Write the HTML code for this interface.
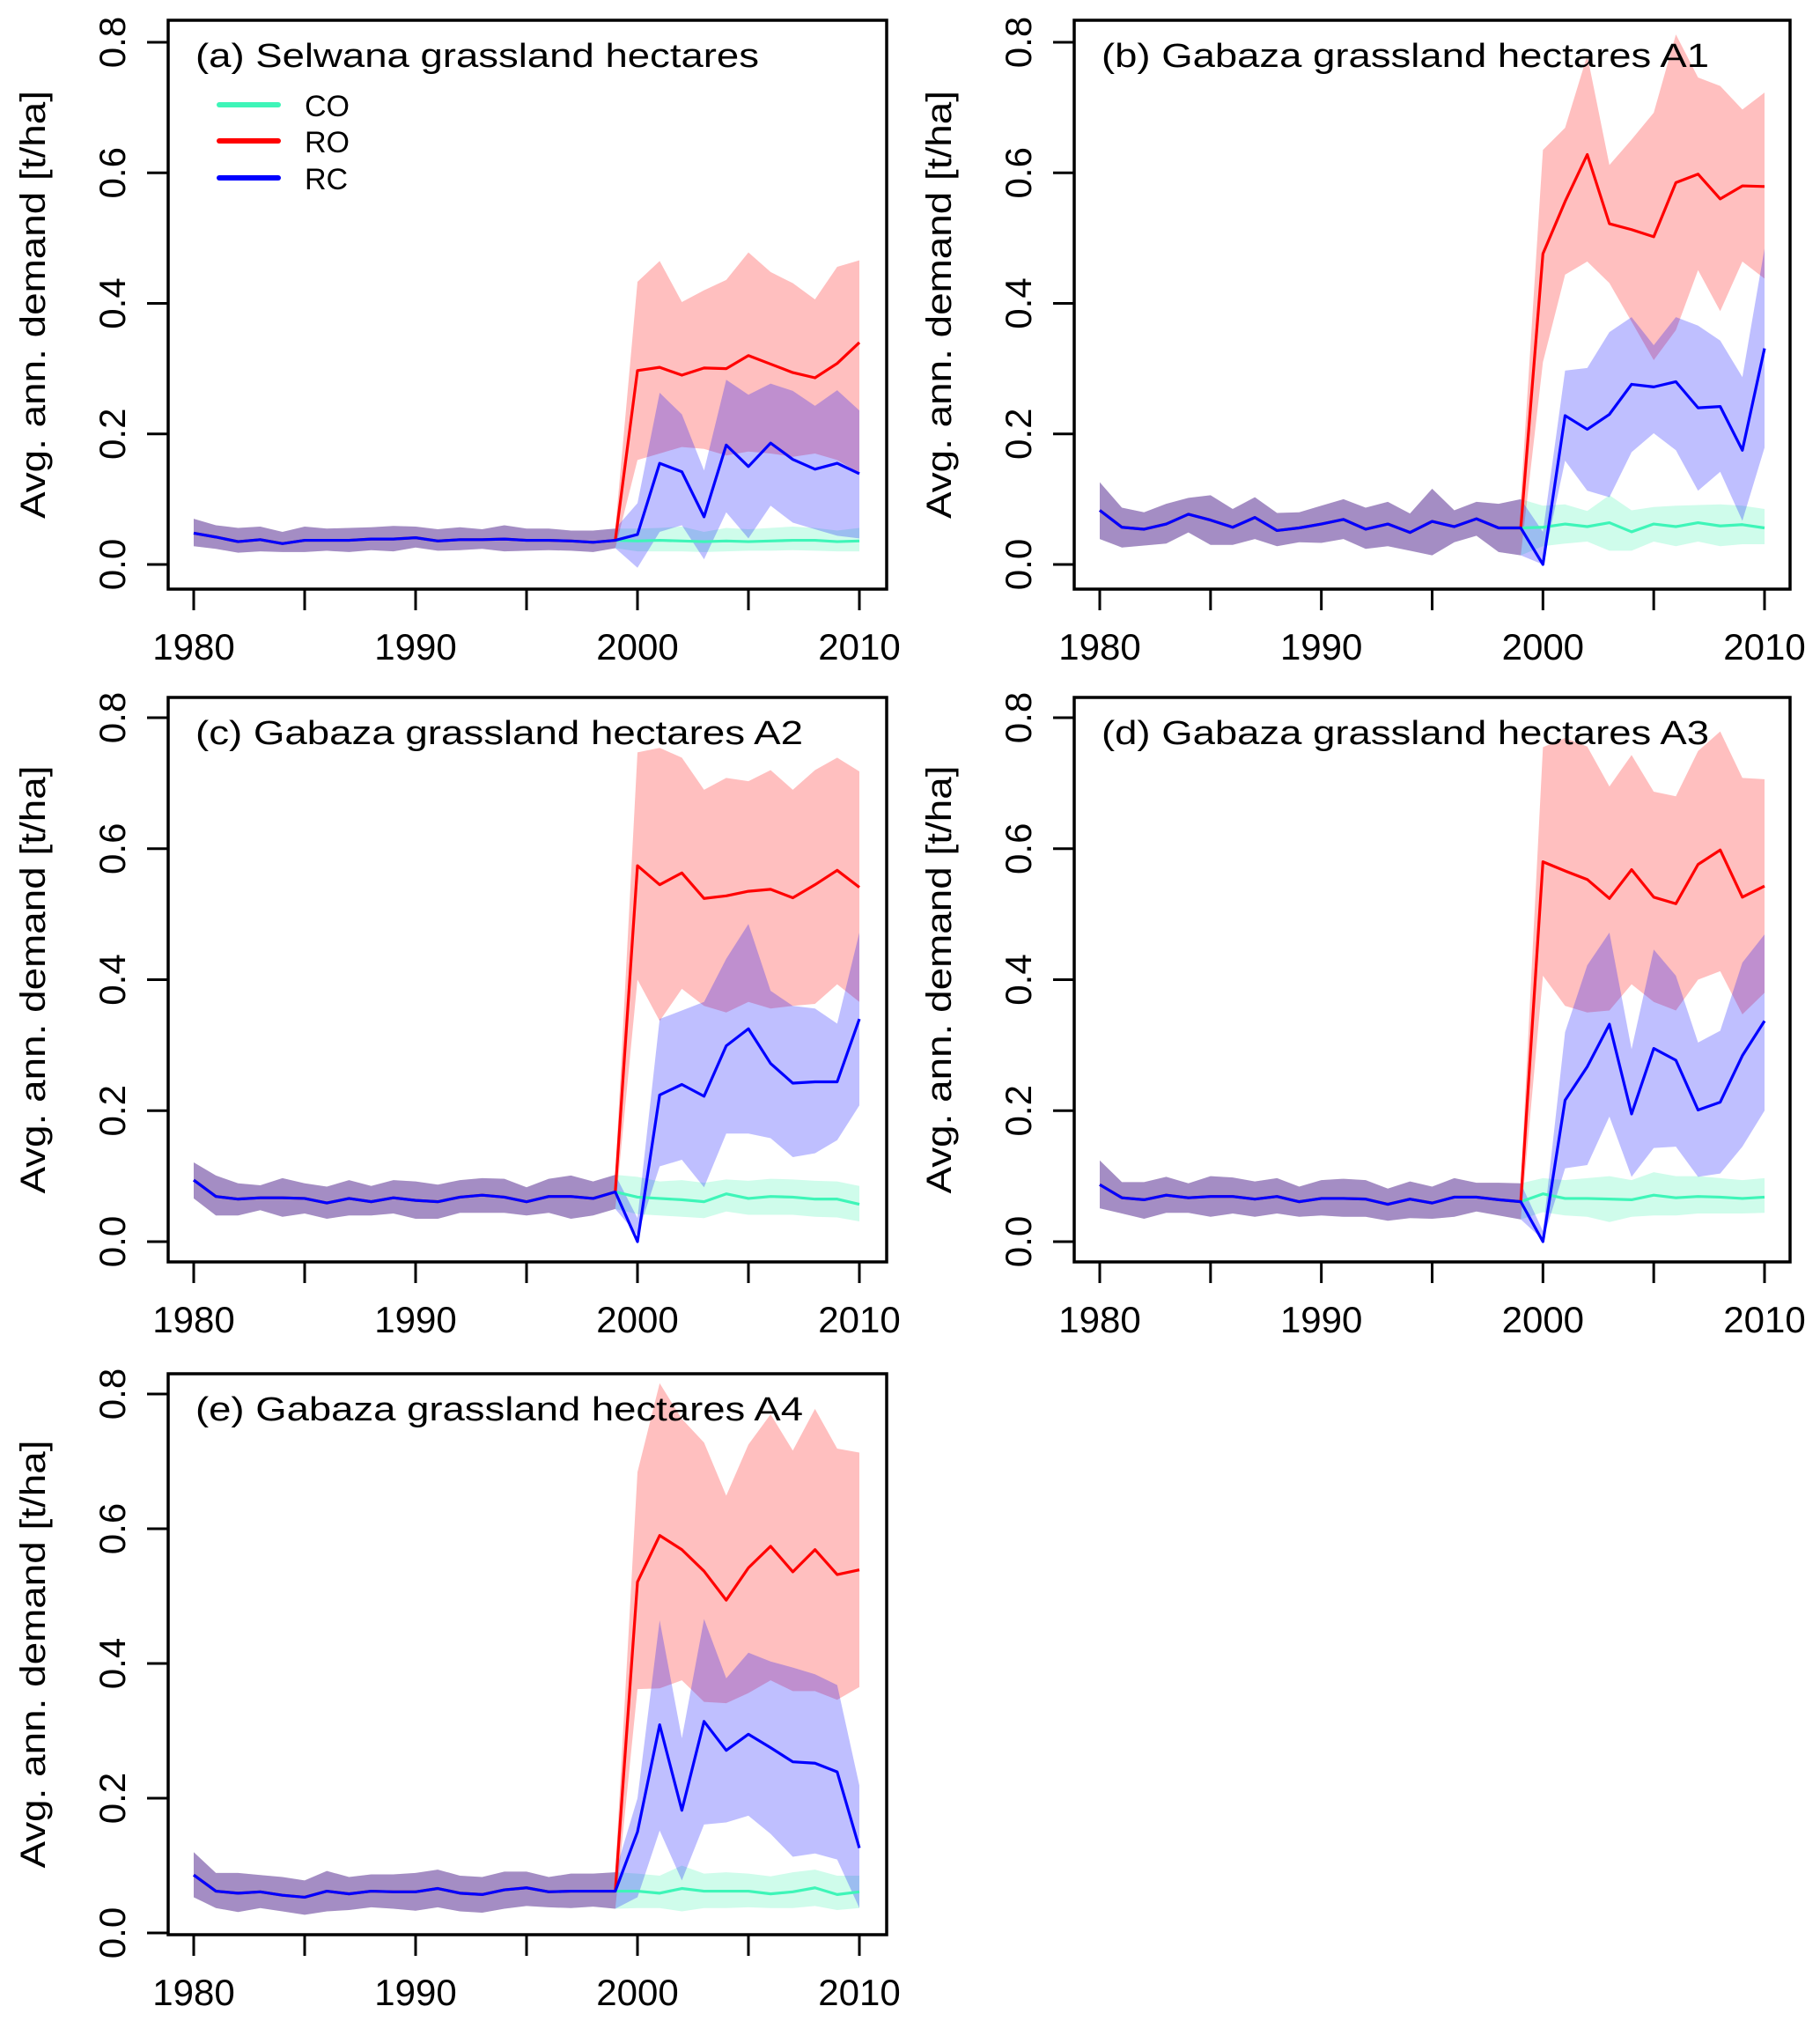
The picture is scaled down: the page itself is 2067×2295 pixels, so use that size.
<!DOCTYPE html>
<html><head><meta charset="utf-8">
<style>
html,body{margin:0;padding:0;background:#fff;}
svg{display:block;}
text{font-family:"Liberation Sans",sans-serif;fill:#000;}
</style></head>
<body>
<svg id="fig" width="2067" height="2295" viewBox="0 0 2067 2295" xmlns="http://www.w3.org/2000/svg"></svg>
<script>
// ---- data (years 1980..2010) ----
const years = [1980,1981,1982,1983,1984,1985,1986,1987,1988,1989,1990,1991,1992,1993,1994,1995,1996,1997,1998,1999,2000,2001,2002,2003,2004,2005,2006,2007,2008,2009,2010];
const xTicks = [1980,1985,1990,1995,2000,2005,2010];
const xTickLabels = ["1980","1990","2000","2010"];
const yTicks = [0,0.2,0.4,0.6,0.8];
const yTickLabels = ["0.0","0.2","0.4","0.6","0.8"];
const titles = ["(a) Selwana grassland hectares","(b) Gabaza grassland hectares A1","(c) Gabaza grassland hectares A2","(d) Gabaza grassland hectares A3","(e) Gabaza grassland hectares A4"];

// panel a
const aPreMean=[0.048,0.042,0.035,0.038,0.032,0.037,0.037,0.037,0.039,0.039,0.041,0.036,0.038,0.038,0.039,0.037,0.037,0.036,0.034,0.037];
const aPreHi=[0.07,0.06,0.056,0.058,0.05,0.058,0.055,0.056,0.057,0.059,0.058,0.054,0.057,0.054,0.06,0.055,0.055,0.052,0.052,0.055];
const aPreLo=[0.028,0.024,0.018,0.02,0.019,0.019,0.021,0.019,0.022,0.02,0.026,0.021,0.022,0.024,0.02,0.021,0.022,0.021,0.019,0.025];
const aRO=[0.297,0.302,0.29,0.301,0.30,0.32,0.307,0.294,0.286,0.308,0.34];
const aROhi=[0.433,0.465,0.402,0.42,0.436,0.478,0.448,0.431,0.406,0.456,0.466];
const aROlo=[0.16,0.17,0.18,0.177,0.167,0.173,0.17,0.165,0.17,0.16,0.14];
const aRC=[0.046,0.155,0.142,0.073,0.183,0.15,0.186,0.161,0.146,0.155,0.139];
const aRChi=[0.094,0.263,0.23,0.144,0.283,0.26,0.277,0.266,0.243,0.267,0.236];
const aRClo=[-0.005,0.05,0.06,0.008,0.08,0.04,0.09,0.064,0.054,0.044,0.04];
const aCO=[0.036,0.037,0.036,0.035,0.036,0.035,0.036,0.037,0.037,0.035,0.036];
const aCOhi=[0.055,0.056,0.058,0.05,0.056,0.054,0.056,0.058,0.056,0.052,0.056];
const aCOlo=[0.02,0.02,0.02,0.019,0.02,0.021,0.021,0.022,0.021,0.02,0.02];

// panel b
const bPreMean=[0.083,0.057,0.054,0.062,0.077,0.068,0.057,0.072,0.052,0.056,0.062,0.069,0.054,0.062,0.049,0.066,0.058,0.07,0.056,0.056];
const bPreHi=[0.126,0.087,0.08,0.093,0.102,0.106,0.085,0.103,0.079,0.08,0.09,0.1,0.087,0.096,0.078,0.116,0.083,0.096,0.093,0.1];
const bPreLo=[0.039,0.026,0.029,0.032,0.049,0.03,0.03,0.039,0.028,0.034,0.033,0.039,0.024,0.028,0.021,0.014,0.034,0.044,0.019,0.014];
const bRO=[0.476,0.556,0.628,0.522,0.513,0.502,0.585,0.598,0.56,0.58,0.579];
const bROhi=[0.635,0.669,0.78,0.612,0.651,0.692,0.812,0.746,0.733,0.697,0.723];
const bROlo=[0.31,0.444,0.464,0.431,0.372,0.313,0.359,0.451,0.388,0.464,0.438];
const bRC=[0.0,0.228,0.207,0.23,0.276,0.272,0.28,0.24,0.242,0.175,0.331];
const bRChi=[0.05,0.297,0.301,0.356,0.379,0.336,0.379,0.366,0.343,0.287,0.484];
const bRClo=[0.0,0.159,0.113,0.103,0.172,0.201,0.175,0.113,0.142,0.067,0.179];
const bCO=[0.057,0.062,0.058,0.064,0.05,0.062,0.058,0.064,0.059,0.061,0.056];
const bCOhi=[0.09,0.092,0.082,0.106,0.083,0.088,0.09,0.091,0.092,0.09,0.085];
const bCOlo=[0.028,0.032,0.035,0.021,0.021,0.035,0.028,0.035,0.028,0.031,0.031];

// panel c
const cPreMean=[0.094,0.069,0.065,0.067,0.067,0.066,0.059,0.066,0.061,0.067,0.063,0.061,0.068,0.071,0.068,0.061,0.069,0.069,0.066,0.076];
const cPreHi=[0.121,0.101,0.089,0.086,0.097,0.089,0.084,0.094,0.085,0.094,0.092,0.087,0.094,0.097,0.096,0.083,0.096,0.101,0.092,0.102];
const cPreLo=[0.066,0.04,0.04,0.048,0.038,0.043,0.035,0.04,0.04,0.043,0.035,0.035,0.044,0.044,0.044,0.04,0.044,0.035,0.04,0.05];
const cRO=[0.574,0.545,0.563,0.524,0.528,0.535,0.538,0.525,0.545,0.567,0.541];
const cROhi=[0.747,0.754,0.739,0.69,0.708,0.703,0.72,0.69,0.72,0.739,0.718];
const cROlo=[0.4,0.337,0.386,0.36,0.35,0.366,0.356,0.36,0.363,0.393,0.366];
const cRC=[0.0,0.224,0.24,0.222,0.299,0.325,0.272,0.242,0.244,0.244,0.34];
const cRChi=[0.036,0.34,0.353,0.366,0.432,0.485,0.383,0.36,0.356,0.333,0.472];
const cRClo=[0.01,0.115,0.125,0.083,0.165,0.165,0.158,0.129,0.135,0.155,0.208];
const cCO=[0.068,0.066,0.064,0.061,0.073,0.066,0.069,0.068,0.065,0.065,0.057];
const cCOhi=[0.099,0.092,0.094,0.09,0.095,0.093,0.096,0.095,0.093,0.092,0.085];
const cCOlo=[0.042,0.04,0.038,0.036,0.046,0.041,0.041,0.041,0.038,0.037,0.031];

// panel d
const dPreMean=[0.087,0.067,0.064,0.071,0.067,0.069,0.069,0.065,0.069,0.061,0.066,0.066,0.065,0.057,0.065,0.059,0.068,0.068,0.064,0.061];
const dPreHi=[0.124,0.091,0.091,0.099,0.089,0.1,0.098,0.092,0.097,0.084,0.094,0.096,0.094,0.081,0.092,0.084,0.097,0.09,0.09,0.089];
const dPreLo=[0.051,0.043,0.035,0.044,0.044,0.038,0.043,0.038,0.043,0.038,0.04,0.038,0.038,0.032,0.036,0.035,0.038,0.046,0.04,0.034];
const dRO=[0.58,0.566,0.553,0.524,0.568,0.526,0.516,0.576,0.598,0.526,0.543];
const dROhi=[0.755,0.769,0.756,0.695,0.743,0.687,0.68,0.749,0.779,0.708,0.706];
const dROlo=[0.406,0.36,0.35,0.353,0.393,0.366,0.353,0.4,0.413,0.347,0.38];
const dRC=[0.0,0.216,0.267,0.332,0.195,0.295,0.277,0.201,0.213,0.284,0.337];
const dRChi=[0.016,0.32,0.422,0.472,0.294,0.446,0.406,0.304,0.322,0.426,0.469];
const dRClo=[0.003,0.112,0.117,0.191,0.099,0.143,0.145,0.099,0.104,0.145,0.2];
const dCO=[0.073,0.066,0.066,0.065,0.064,0.071,0.067,0.069,0.068,0.066,0.068];
const dCOhi=[0.097,0.094,0.097,0.1,0.094,0.106,0.1,0.1,0.097,0.094,0.097];
const dCOlo=[0.045,0.04,0.038,0.03,0.038,0.04,0.04,0.043,0.043,0.043,0.044];

// panel e
const ePreMean=[0.086,0.062,0.059,0.061,0.056,0.053,0.062,0.058,0.062,0.061,0.061,0.066,0.059,0.057,0.064,0.067,0.061,0.062,0.062,0.062];
const ePreHi=[0.12,0.089,0.089,0.086,0.083,0.078,0.092,0.083,0.087,0.087,0.089,0.094,0.085,0.083,0.091,0.091,0.083,0.088,0.088,0.09];
const ePreLo=[0.053,0.037,0.031,0.037,0.032,0.027,0.032,0.034,0.038,0.036,0.033,0.038,0.032,0.03,0.036,0.04,0.038,0.037,0.039,0.036];
const eRO=[0.521,0.59,0.569,0.537,0.494,0.542,0.574,0.536,0.569,0.532,0.539];
const eROhi=[0.684,0.816,0.763,0.728,0.649,0.725,0.77,0.716,0.778,0.719,0.713];
const eROlo=[0.362,0.363,0.375,0.343,0.341,0.356,0.375,0.359,0.359,0.346,0.365];
const eRC=[0.15,0.309,0.182,0.314,0.271,0.295,0.275,0.254,0.252,0.239,0.126];
const eRChi=[0.2,0.464,0.289,0.466,0.378,0.416,0.403,0.394,0.384,0.368,0.219];
const eRClo=[0.053,0.152,0.078,0.161,0.164,0.174,0.147,0.113,0.118,0.109,0.037];
const eCO=[0.062,0.059,0.066,0.062,0.062,0.062,0.058,0.061,0.067,0.057,0.061];
const eCOhi=[0.088,0.085,0.1,0.088,0.09,0.088,0.084,0.09,0.094,0.085,0.085];
const eCOlo=[0.037,0.037,0.032,0.037,0.037,0.038,0.037,0.037,0.04,0.034,0.037];

const panelsData=[
 {pre:[aPreMean,aPreLo,aPreHi],RO:[aRO,aROlo,aROhi],RC:[aRC,aRClo,aRChi],CO:[aCO,aCOlo,aCOhi]},
 {pre:[bPreMean,bPreLo,bPreHi],RO:[bRO,bROlo,bROhi],RC:[bRC,bRClo,bRChi],CO:[bCO,bCOlo,bCOhi]},
 {pre:[cPreMean,cPreLo,cPreHi],RO:[cRO,cROlo,cROhi],RC:[cRC,cRClo,cRChi],CO:[cCO,cCOlo,cCOhi]},
 {pre:[dPreMean,dPreLo,dPreHi],RO:[dRO,dROlo,dROhi],RC:[dRC,dRClo,dRChi],CO:[dCO,dCOlo,dCOhi]},
 {pre:[ePreMean,ePreLo,ePreHi],RO:[eRO,eROlo,eROhi],RC:[eRC,eRClo,eRChi],CO:[eCO,eCOlo,eCOhi]}
];

// ---- layout ----
const cols=[{l:191,r:1007,x0:220,x1:976},{l:1220,r:2033,x0:1249,x1:2004}];
const rows=[{t:23,b:669,y8:48,y0:641},{t:792,b:1433,y8:815,y0:1410},{t:1560,b:2197,y8:1583,y0:2195}];
const NS="http://www.w3.org/2000/svg";
const svg=document.getElementById('fig');
function mk(tag,attrs,parent){const e=document.createElementNS(NS,tag);for(const k in attrs)e.setAttribute(k,attrs[k]);(parent||svg).appendChild(e);return e;}

const colors={CO:'#3ef5b8',RO:'#ff0000',RC:'#0000ff'};
const bands={CO:'rgba(64,245,176,0.25)',RO:'rgba(255,0,0,0.25)',RC:'rgba(0,0,255,0.25)'};

panelsData.forEach((pd,i)=>{
  const c=cols[i%2], r=rows[Math.floor(i/2)];
  const g=mk('g',{});
  
  
  const sx=y=>c.x0+(y-1980)/30*(c.x1-c.x0);
  const sy=v=>r.y0-v/0.8*(r.y0-r.y8);
  const clip='clip'+i;
  const cp=mk('clipPath',{id:clip},g);
  mk('rect',{x:c.l,y:r.t,width:c.r-c.l,height:r.b-r.t},cp);
  const plot=mk('g',{'clip-path':'url(#'+clip+')'},g);
  const full=key=>[0,1,2].map(k=>pd.pre[k].concat(pd[key][k]));
  ['CO','RO','RC'].forEach(key=>{
    const [m,lo,hi]=full(key);
    let pts=years.map((y,j)=>sx(y)+','+sy(hi[j]));
    for(let j=years.length-1;j>=0;j--)pts.push(sx(years[j])+','+sy(lo[j]));
    const p=mk('polygon',{points:pts.join(' '),fill:bands[key],stroke:'none'},plot);
    
    
  });
  ['CO','RO','RC'].forEach(key=>{
    const [m]=full(key);
    const pl=mk('polyline',{points:years.map((y,j)=>sx(y)+','+sy(m[j])).join(' '),fill:'none',stroke:colors[key],'stroke-width':3.2,'stroke-linejoin':'round'},plot);
    
    
  });
  const box=mk('rect',{x:c.l,y:r.t,width:c.r-c.l,height:r.b-r.t,fill:'none',stroke:'#000','stroke-width':3.5},g);
  
  
  xTicks.forEach(y=>{mk('line',{x1:sx(y),x2:sx(y),y1:r.b,y2:r.b+24,stroke:'#000','stroke-width':3},g);});
  xTickLabels.forEach(s=>{
    const t=mk('text',{x:sx(+s),y:r.b+80,'text-anchor':'middle','font-size':42},g);
    
    
    t.textContent=s;
  });
  yTicks.forEach((v,k)=>{
    mk('line',{x1:c.l,x2:c.l-24,y1:sy(v),y2:sy(v),stroke:'#000','stroke-width':3},g);
    const cx=c.l-64, cy=sy(v);
    const t=mk('text',{x:cx,y:cy+15,'text-anchor':'middle','font-size':42,transform:'rotate(-90 '+cx+' '+cy+')'},g);
    
    
    t.textContent=yTickLabels[k];
  });
  const yx=c.l-155, yc=(r.t+r.b)/2;
  const yt=mk('text',{x:yx,y:yc+15,'text-anchor':'middle','font-size':40,textLength:486,lengthAdjust:'spacingAndGlyphs',transform:'rotate(-90 '+yx+' '+yc+')'},g);
  
  
  yt.textContent='Avg. ann. demand [t/ha]';
  const tt=mk('text',{x:c.l+31,y:r.t+53,'font-size':38,textLength:(i===0?640:690),lengthAdjust:'spacingAndGlyphs'},g);
  
  
  tt.textContent=titles[i];
  if(i===0){
    const lg=mk('g',{},g);
    
    
    [['CO',119],['RO',160],['RC',202]].forEach(([k,yy])=>{
      mk('line',{x1:249,x2:316,y1:yy,y2:yy,stroke:colors[k],'stroke-width':6,'stroke-linecap':'round'},lg);
      const t=mk('text',{x:346,y:yy+13,'font-size':34},lg);
      
      
      t.textContent=k;
    });
  }
});
</script>
</body></html>
